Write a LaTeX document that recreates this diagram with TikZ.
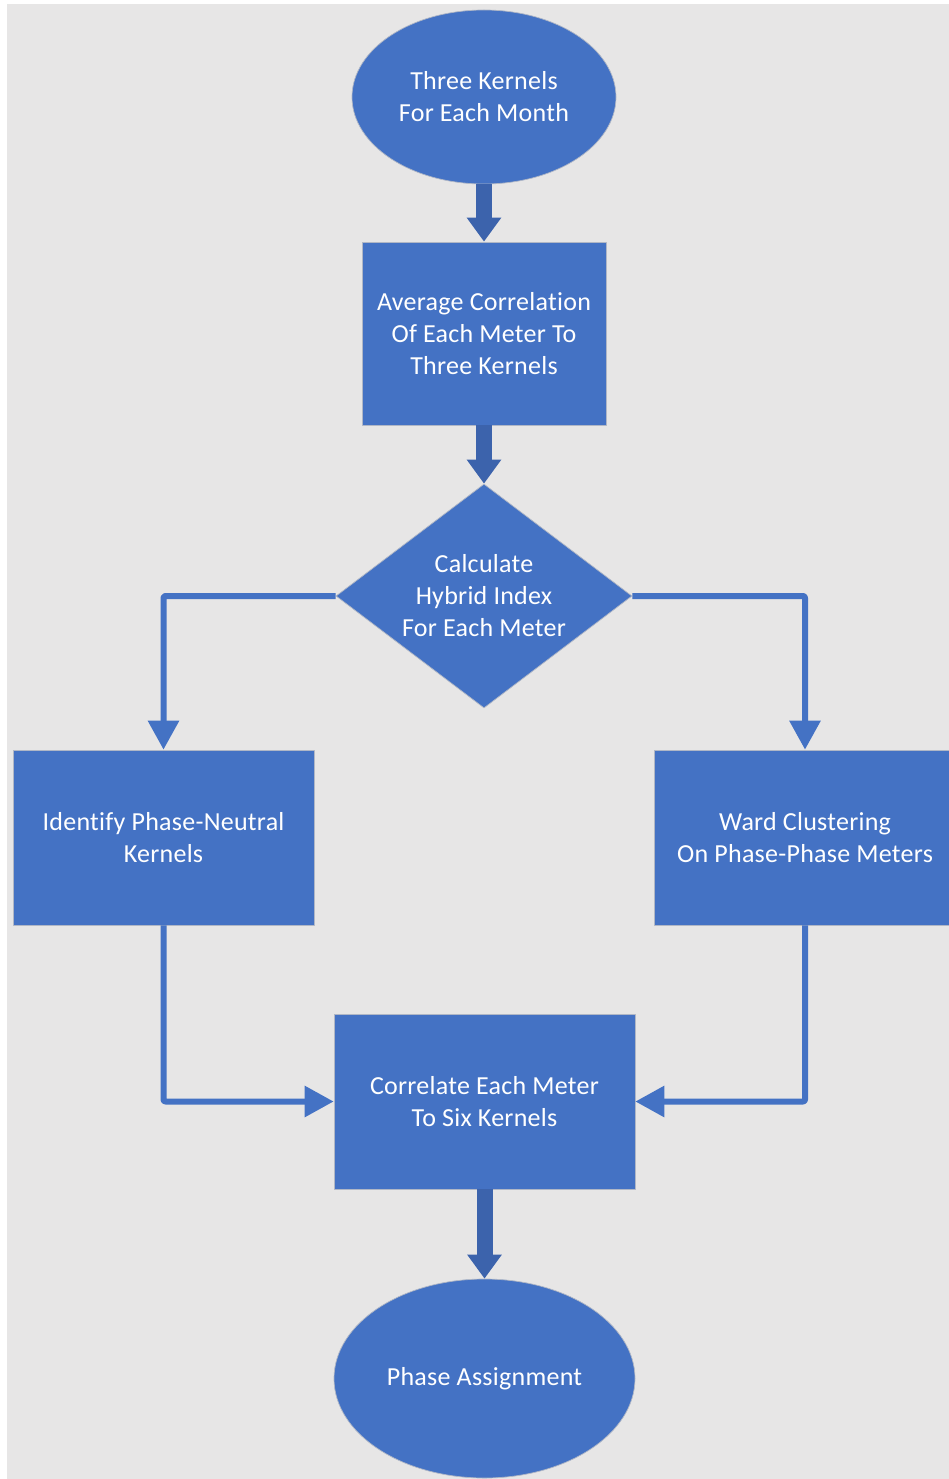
\documentclass[tikz,border=0pt]{standalone}
\usepackage{fontspec}
\setmainfont{Carlito}[LetterSpace=1.0, Ligatures={NoCommon,NoRare}]
\usetikzlibrary{shapes.geometric,arrows.meta}
\definecolor{boxblue}{HTML}{4472C4}
\definecolor{arrowblue}{HTML}{3C63AC}
\definecolor{edgegray}{HTML}{B0B7C6}
\definecolor{bggray}{HTML}{E7E6E6}
\begin{document}
\begin{tikzpicture}[x=1pt, y=-1pt, line join=round,
    blockshape/.style={fill=boxblue, draw=edgegray, line width=0.7pt, text=white, align=center, inner sep=0pt,
      font=\fontsize{26}{32}\selectfont},
    oval/.style={blockshape, ellipse},
    box/.style={blockshape, rectangle, minimum width=301pt, minimum height=175pt},
    choice/.style={blockshape, diamond, aspect=1.32, minimum width=296pt, minimum height=224pt},
    flow/.style={draw=arrowblue, line width=16pt, -{Triangle[width=33pt,length=24pt]}},
    link/.style={draw=boxblue, line width=6pt, rounded corners=2pt, -{Triangle[width=30pt,length=29pt]}}]
    \useasboundingbox (0,0) rectangle (949,1479);
    \clip (0,0) rectangle (949,1479);
    \fill[bggray] (7,4) rectangle (949,1479);
    \node[oval, minimum width=264pt, minimum height=174pt] (kernels) at (484,97) {Three Kernels\\For Each Month};
    \node[box, minimum width=244pt, minimum height=183pt] (average) at (484,333.5) {Average Correlation\\Of Each Meter To\\Three Kernels};
    \node[choice] (hybrid) at (484,596) {Calculate\\Hybrid Index\\For Each Meter};
    \node[box] (neutral) at (163.5,837.5) {Identify Phase-Neutral\\Kernels};
    \node[box, minimum width=302pt] (ward) at (805,837.5) {Ward Clustering\\On Phase-Phase Meters};
    \node[box] (correlate) at (484.5,1101.5) {Correlate Each Meter\\To Six Kernels};
    \node[oval, minimum width=301pt, minimum height=199pt] (assign) at (484.5,1378.5) {Phase Assignment};
    \draw[flow] (kernels.south) -- (average.north);
    \draw[flow] (average.south) -- (hybrid.north);
    \draw[flow] (correlate.south) -- (assign.north);
    \draw[link] (hybrid.west) -| (neutral.north);
    \draw[link] (hybrid.east) -| (ward.north);
    \draw[link] (neutral.south) |- (correlate.west);
    \draw[link] (ward.south) |- (correlate.east);
\end{tikzpicture}
\end{document}
